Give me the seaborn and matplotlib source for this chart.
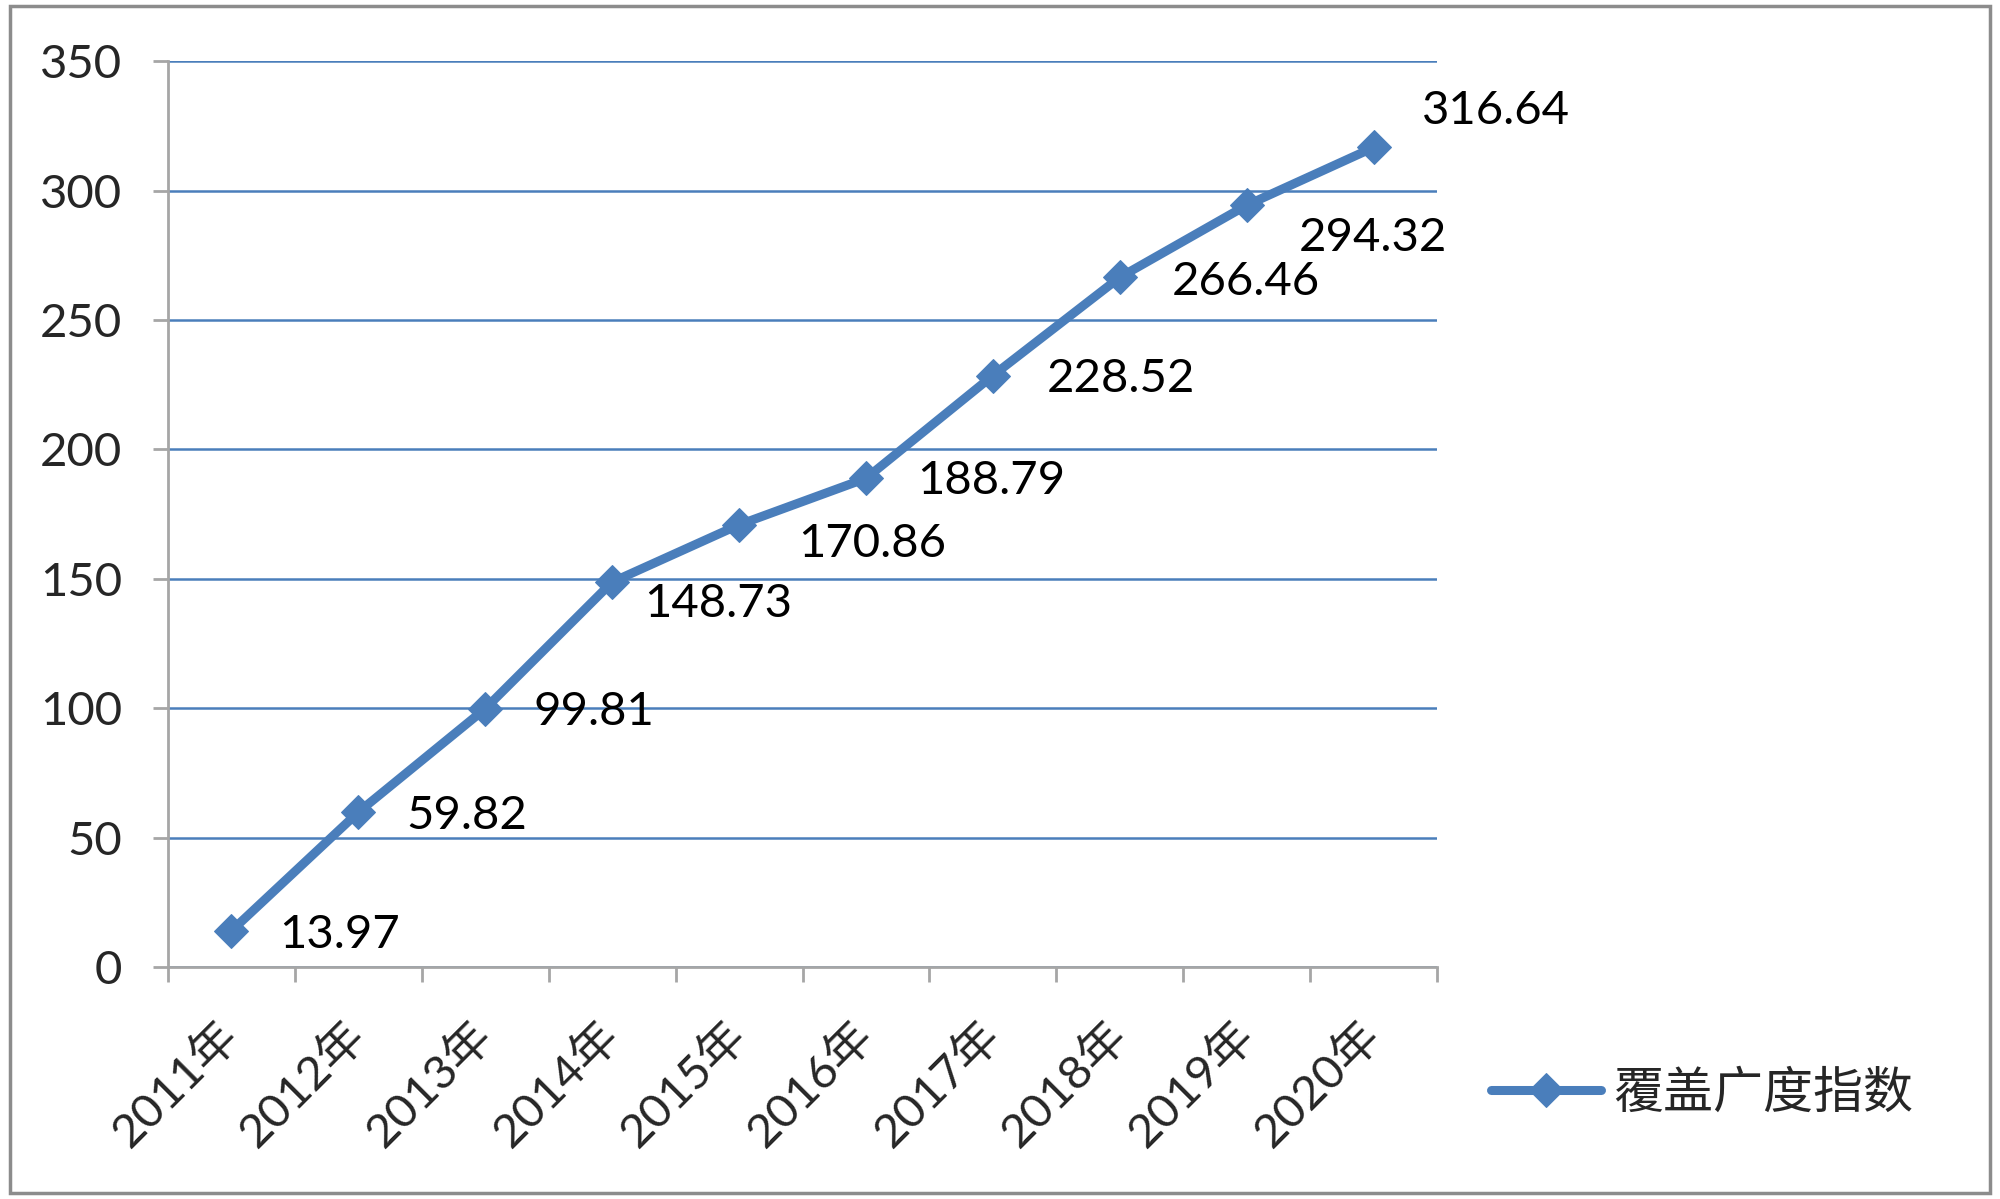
import numpy as np
import pandas as pd
import matplotlib
matplotlib.use('Agg')
import matplotlib.pyplot as plt
from matplotlib.patches import Rectangle
import seaborn as sns

# Data
years = ['2011年', '2012年', '2013年', '2014年', '2015年',
         '2016年', '2017年', '2018年', '2019年', '2020年']
coverage = [13.97, 59.82, 99.81, 148.73, 170.86,
            188.79, 228.52, 266.46, 294.32, 316.64]
series_name = '覆盖广度指数'

# label offsets (pixels) for the value labels
label_dx = [48, 48, 48, 32, 59, 51, 54, 52, 52, 48]
label_dy = [-4, -4, -3, -22, -19, -3, -3, -5, -33, 36]

blue = '#4A7EBB'
grey = '#A6A6A6'

sns.set_style('white')
plt.rcParams['font.family'] = ['Lato', 'Noto Sans CJK SC', 'DejaVu Sans']

df = pd.DataFrame({'pos': np.arange(len(years)), 'value': coverage})

fig = plt.figure(figsize=(20, 11.99), dpi=100)
ax = fig.add_axes([0.084, 0.1935, 0.6345, 0.7555])

sns.lineplot(data=df, x='pos', y='value', ax=ax, color=blue, linewidth=6.5,
             marker='D', markersize=17, markeredgecolor=blue,
             label=series_name, solid_capstyle='round')

for i, v in enumerate(coverage):
    ax.annotate(f'{v:.2f}', (i, v), xytext=(label_dx[i], label_dy[i]),
                textcoords='offset pixels', ha='left', va='center',
                fontsize=34, color='black')

ax.set_ylim(0, 350)
ax.set_yticks(range(0, 351, 50))
ax.set_xlim(-0.5, len(years) - 0.5)
ax.set_xticks(np.arange(len(years)))
ax.set_xticklabels(years, rotation=45, ha='right', va='center',
                   rotation_mode='anchor')
ax.set_xticks(np.arange(-0.5, len(years)), minor=True)
ax.set_xlabel('')
ax.set_ylabel('')

ax.yaxis.grid(True, color=blue, linewidth=1.8)
ax.xaxis.grid(False)
ax.set_axisbelow(True)

for s in ['top', 'right']:
    ax.spines[s].set_visible(False)
for s in ['left', 'bottom']:
    ax.spines[s].set_color(grey)
    ax.spines[s].set_linewidth(2)

ax.tick_params(axis='y', which='major', length=11, width=2, color=grey,
               direction='out', left=True, labelsize=34, pad=22)
ax.tick_params(axis='x', which='major', length=0, labelsize=34, pad=44)
ax.tick_params(axis='x', which='minor', length=11, width=2, color=grey,
               direction='out', bottom=True)

leg = ax.legend(loc='center left', bbox_to_anchor=(0.723, 0.088),
                bbox_transform=fig.transFigure, frameon=False,
                fontsize=36, handlelength=2.2, handletextpad=0.25)

fig.patches.append(Rectangle((0.005, 0.005), 0.99, 0.99, transform=fig.transFigure,
                             fill=False, edgecolor='#8C8C8C', linewidth=2.5))

fig.savefig('out.png', dpi=100)
